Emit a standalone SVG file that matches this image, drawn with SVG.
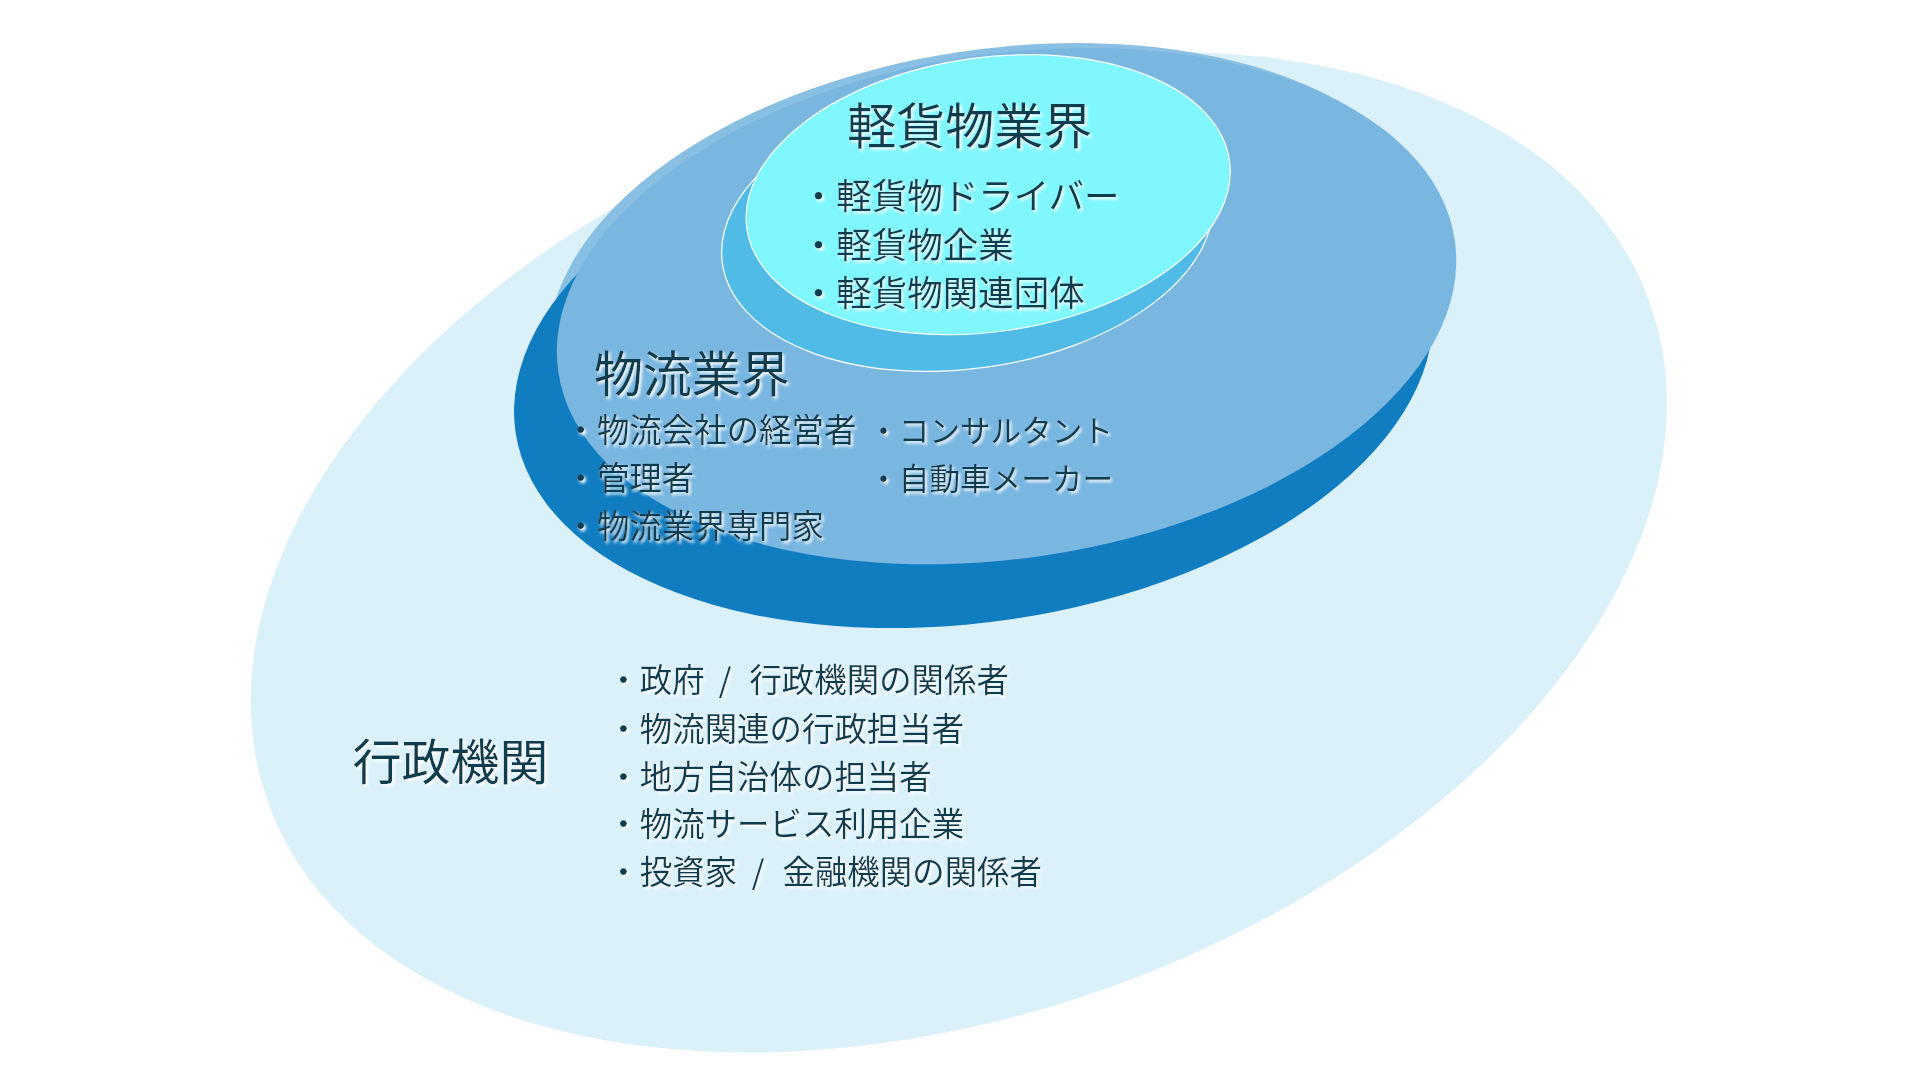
<svg xmlns="http://www.w3.org/2000/svg" width="1920" height="1080" viewBox="0 0 1920 1080">
  <defs>
    <filter id="glow" x="-10%" y="-30%" width="120%" height="160%">
      <feDropShadow dx="1.6" dy="1.8" stdDeviation="1.2" flood-color="#ffffff" flood-opacity="1"/>
    </filter>
    <style>
      text { font-family: "Noto Sans CJK JP", "Noto Sans CJK SC", sans-serif; fill: #0f3c50; filter: url(#glow); }
      .title { font-size: 40px; }
      .item { font-size: 26.5px; }
      .item-r { font-size: 25px; }
      .item-l { font-size: 29px; }
    </style>
  </defs>
  <rect x="0" y="0" width="1920" height="1080" fill="#ffffff"/>
  <g transform="scale(1.22449)">
    <g id="node-gyousei">
      <ellipse cx="783" cy="451" rx="600" ry="376" transform="rotate(-20 783 451)" fill="#dbf1fa"/>
      <text class="title" x="288" y="637">行政機関</text>
      <text class="item" x="496" y="565">・政府<tspan x="587">/</tspan><tspan x="612">行政機関の関係者</tspan></text>
      <text class="item" x="496" y="605">・物流関連の行政担当者</text>
      <text class="item" x="496" y="644">・地方自治体の担当者</text>
      <text class="item" x="496" y="683">・物流サービス利用企業</text>
      <text class="item" x="496" y="722">・投資家<tspan x="614">/</tspan><tspan x="639">金融機関の関係者</tspan></text>
    </g>
    <g id="node-butsuryu">
      <ellipse cx="815" cy="246" rx="370" ry="206" transform="rotate(-8.4 815 246)" fill="#89bfe2"/>
      <ellipse cx="795" cy="298" rx="378" ry="210" transform="rotate(-8.4 795 298)" fill="#117dc1"/>
      <ellipse cx="822" cy="250" rx="370" ry="206" transform="rotate(-8.4 822 250)" fill="#79b6e0"/>
      <text class="title" x="485" y="320">物流業界</text>
      <text class="item" x="461" y="361">・物流会社の経営者</text>
      <text class="item" x="461" y="400">・管理者</text>
      <text class="item" x="461" y="439">・物流業界専門家</text>
      <text class="item-r" x="709" y="361">・コンサルタント</text>
      <text class="item-r" x="709" y="400">・自動車メーカー</text>
    </g>
    <g id="node-keikamotsu">
      <ellipse cx="790" cy="187" rx="202" ry="114" transform="rotate(-8 790 187)" fill="#4fbbe6" stroke="#ffffff" stroke-width="1"/>
      <ellipse cx="807" cy="159" rx="199" ry="112" transform="rotate(-8 807 159)" fill="#80f7fe" stroke="#ffffff" stroke-width="1"/>
      <text class="title" x="692" y="118">軽貨物業界</text>
      <text class="item-l" x="654" y="171">・軽貨物ドライバー</text>
      <text class="item-l" x="654" y="211">・軽貨物企業</text>
      <text class="item-l" x="654" y="250">・軽貨物関連団体</text>
    </g>
    <g id="connectors"/>
  </g>
</svg>
